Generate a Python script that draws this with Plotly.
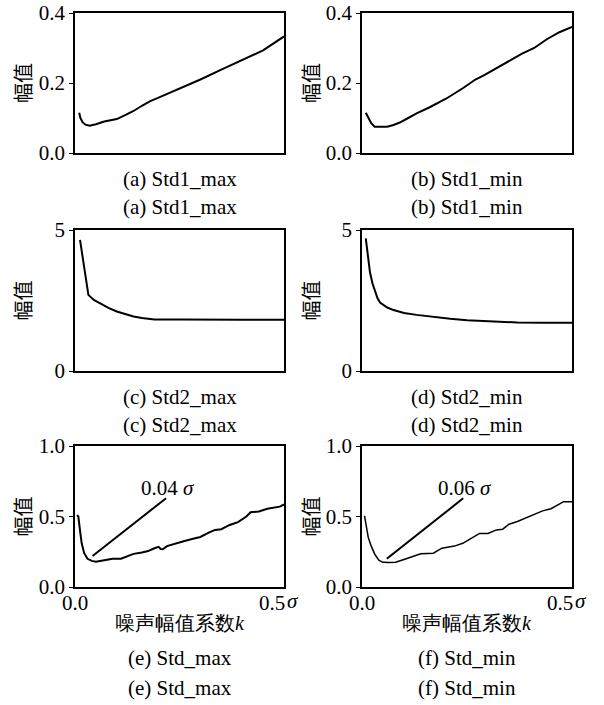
import plotly.graph_objects as go

# ---- data: noise amplitude coefficient k (in units of sigma) vs. amplitude ----
a_k = [0.01, 0.013, 0.018, 0.025, 0.035, 0.05, 0.07, 0.09, 0.1, 0.12, 0.14, 0.16,
       0.18, 0.2, 0.22, 0.25, 0.3, 0.35, 0.4, 0.45, 0.5]
a_amp = [0.115, 0.1, 0.088, 0.081, 0.078, 0.082, 0.09, 0.095, 0.097, 0.108, 0.12,
         0.135, 0.148, 0.158, 0.168, 0.185, 0.21, 0.238, 0.265, 0.293, 0.333]

b_k = [0.009, 0.015, 0.022, 0.03, 0.045, 0.06, 0.075, 0.09, 0.11, 0.13, 0.16, 0.2,
       0.24, 0.27, 0.29, 0.32, 0.35, 0.38, 0.41, 0.44, 0.47, 0.5]
b_amp = [0.115, 0.1, 0.085, 0.075, 0.074, 0.075, 0.08, 0.087, 0.1, 0.113, 0.13,
         0.155, 0.185, 0.21, 0.222, 0.243, 0.263, 0.283, 0.3, 0.325, 0.345, 0.36]

c_k = [0.012, 0.022, 0.032, 0.045, 0.062, 0.08, 0.1, 0.12, 0.14, 0.16, 0.19, 0.25,
       0.3, 0.4, 0.5]
c_amp = [4.65, 3.65, 2.7, 2.52, 2.38, 2.24, 2.11, 2.01, 1.93, 1.88, 1.83, 1.83,
         1.82, 1.82, 1.82]

d_k = [0.009, 0.014, 0.019, 0.025, 0.031, 0.037, 0.043, 0.06, 0.075, 0.1, 0.13,
       0.17, 0.21, 0.25, 0.29, 0.33, 0.37, 0.43, 0.5]
d_amp = [4.7, 4.05, 3.5, 3.1, 2.8, 2.58, 2.43, 2.25, 2.16, 2.06, 1.99, 1.91, 1.85,
         1.8, 1.77, 1.74, 1.72, 1.71, 1.71]

e_k = [0.005, 0.008, 0.012, 0.016, 0.022, 0.03, 0.04, 0.05, 0.06, 0.075, 0.09, 0.11,
       0.125, 0.14, 0.16, 0.175, 0.19, 0.2, 0.205, 0.21, 0.22, 0.24, 0.26, 0.28, 0.3,
       0.32, 0.335, 0.35, 0.37, 0.39, 0.41, 0.42, 0.44, 0.46, 0.48, 0.49, 0.5]
e_amp = [0.51, 0.5, 0.4, 0.31, 0.24, 0.2, 0.185, 0.18, 0.185, 0.195, 0.2, 0.2,
         0.215, 0.235, 0.245, 0.255, 0.275, 0.285, 0.27, 0.268, 0.29, 0.31, 0.325,
         0.34, 0.355, 0.385, 0.405, 0.41, 0.44, 0.46, 0.5, 0.53, 0.535, 0.555, 0.565,
         0.57, 0.585]

f_k = [0.006, 0.01, 0.015, 0.022, 0.03, 0.04, 0.05, 0.065, 0.08, 0.1, 0.12, 0.14,
       0.17, 0.19, 0.22, 0.24, 0.26, 0.28, 0.3, 0.32, 0.335, 0.35, 0.37, 0.39, 0.41,
       0.43, 0.45, 0.47, 0.48, 0.5]
f_amp = [0.505, 0.42, 0.35, 0.29, 0.235, 0.19, 0.175, 0.173, 0.175, 0.195, 0.215,
         0.235, 0.24, 0.275, 0.29, 0.31, 0.345, 0.38, 0.38, 0.405, 0.41, 0.445,
         0.465, 0.49, 0.52, 0.54, 0.555, 0.585, 0.605, 0.605]

# leader lines pointing at the minimum, with their labels
e_lead_k = [0.042, 0.218]
e_lead_amp = [0.22, 0.63]
e_lead_label = "0.04 <i>σ</i>"
f_lead_k = [0.059, 0.241]
f_lead_amp = [0.2, 0.629]
f_lead_label = "0.06 <i>σ</i>"

# axis ticks
y1_ticks = [0, 0.2, 0.4]
y1_text = ["0.0", "0.2", "0.4"]
y2_ticks = [0, 5]
y2_text = ["0", "5"]
y3_ticks = [0, 0.5, 1.0]
y3_text = ["0.0", "0.5", "1.0"]
x_ticks = [0.0, 0.5]
x_text = ["0.0", "0.5"]

y_title = "幅值"
x_title = "噪声幅值系数<i>k</i>"
captions = ["(a) Std1_max", "(b) Std1_min", "(c) Std2_max",
            "(d) Std2_min", "(e) Std_max", "(f) Std_min"]

# ---- layout geometry (pixels) ----
W, H = 604, 705
FONT = "Liberation Serif"
CJK = "Noto Sans CJK SC"
cols = [(75, 284), (362, 572)]
rows = [(13, 153), (230, 371), (446, 587)]


def px_x(p):
    return p / W


def px_y(p):
    return 1 - p / H


fig = go.Figure()

panels = [
    (a_k, a_amp, 0, 0, [0, 0.4], y1_ticks, y1_text, 2.0),
    (b_k, b_amp, 0, 1, [0, 0.4], y1_ticks, y1_text, 2.0),
    (c_k, c_amp, 1, 0, [0, 5], y2_ticks, y2_text, 2.0),
    (d_k, d_amp, 1, 1, [0, 5], y2_ticks, y2_text, 2.0),
    (e_k, e_amp, 2, 0, [0, 1.0], y3_ticks, y3_text, 2.0),
    (f_k, f_amp, 2, 1, [0, 1.0], y3_ticks, y3_text, 1.5),
]

layout = {}
annotations = []
for i, (xs, ys, r, c, yr, yt, ytt, lw) in enumerate(panels):
    n = i + 1
    xa = "x" if n == 1 else f"x{n}"
    ya = "y" if n == 1 else f"y{n}"
    fig.add_trace(go.Scatter(x=xs, y=ys, mode="lines", xaxis=xa, yaxis=ya,
                             line=dict(color="black", width=lw),
                             showlegend=False, hoverinfo="skip"))
    x0, x1 = cols[c]
    y0, y1 = rows[r]
    layout["xaxis" if n == 1 else f"xaxis{n}"] = dict(
        domain=[px_x(x0), px_x(x1)], range=[0, 0.5], anchor=ya,
        showgrid=False, zeroline=False, showline=True, mirror=True,
        linecolor="black", linewidth=1.5, ticks="", showticklabels=False,
        automargin=False, fixedrange=True)
    layout["yaxis" if n == 1 else f"yaxis{n}"] = dict(
        domain=[px_y(y1), px_y(y0)], range=yr, anchor=xa,
        showgrid=False, zeroline=False, showline=True, mirror=True,
        linecolor="black", linewidth=1.5, ticks="outside", ticklen=4,
        tickcolor="black", tickwidth=1.2, tickvals=yt, ticktext=ytt,
        tickfont=dict(family=FONT, size=21, color="black"),
        automargin=False, fixedrange=True)

    # y-axis title
    ycen = (y0 + y1) / 2
    annotations.append(dict(
        text=y_title, textangle=-90, xref="paper", yref="paper",
        x=px_x(22 if c == 0 else 310), y=px_y(ycen), showarrow=False,
        xanchor="center", yanchor="middle",
        font=dict(family=CJK, size=20, color="black")))

    xcen = (x0 + x1) / 2
    if r < 2:
        cap_y = [y1 + 26, y1 + 54]
    else:
        cap_y = [658, 688]
        # x tick labels and x title on bottom row
        annotations.append(dict(
            text=x_text[0], xref=xa, yref="paper", x=x_ticks[0], y=px_y(603),
            showarrow=False, xanchor="center", yanchor="middle",
            font=dict(family=FONT, size=21, color="black")))
        annotations.append(dict(
            text=x_text[1], xref=xa, yref="paper", x=x_ticks[1], y=px_y(603),
            showarrow=False, xanchor="right", yanchor="middle", xshift=3,
            font=dict(family=FONT, size=21, color="black")))
        annotations.append(dict(
            text="<i>σ</i>", xref=xa, yref="paper", x=x_ticks[1], y=px_y(601),
            showarrow=False, xanchor="left", yanchor="middle", xshift=1,
            font=dict(family=FONT, size=21, color="black")))
        annotations.append(dict(
            text=x_title, xref="paper", yref="paper", x=px_x(xcen), y=px_y(623),
            showarrow=False, xanchor="center", yanchor="middle",
            font=dict(family=FONT, size=20, color="black")))
    for cy in cap_y:
        annotations.append(dict(
            text=captions[i], xref="paper", yref="paper", x=px_x(xcen),
            y=px_y(cy), showarrow=False, xanchor="center", yanchor="middle",
            font=dict(family=FONT, size=21, color="black")))

# leader lines and their labels in panels (e) and (f)
for xs, ys, lab, xa, ya in [(e_lead_k, e_lead_amp, e_lead_label, "x5", "y5"),
                            (f_lead_k, f_lead_amp, f_lead_label, "x6", "y6")]:
    fig.add_trace(go.Scatter(x=xs, y=ys, mode="lines", xaxis=xa, yaxis=ya,
                             line=dict(color="black", width=2),
                             showlegend=False, hoverinfo="skip"))
    annotations.append(dict(
        text=lab, xref=xa, yref=ya, x=xs[1] + 0.005, y=ys[1] + 0.07,
        showarrow=False, xanchor="center", yanchor="middle",
        font=dict(family=FONT, size=21, color="black")))

fig.update_layout(
    template="none",
    width=W, height=H, margin=dict(l=0, r=0, t=0, b=0, pad=0),
    paper_bgcolor="white", plot_bgcolor="white",
    annotations=annotations, **layout)

fig.write_html("out.html")
